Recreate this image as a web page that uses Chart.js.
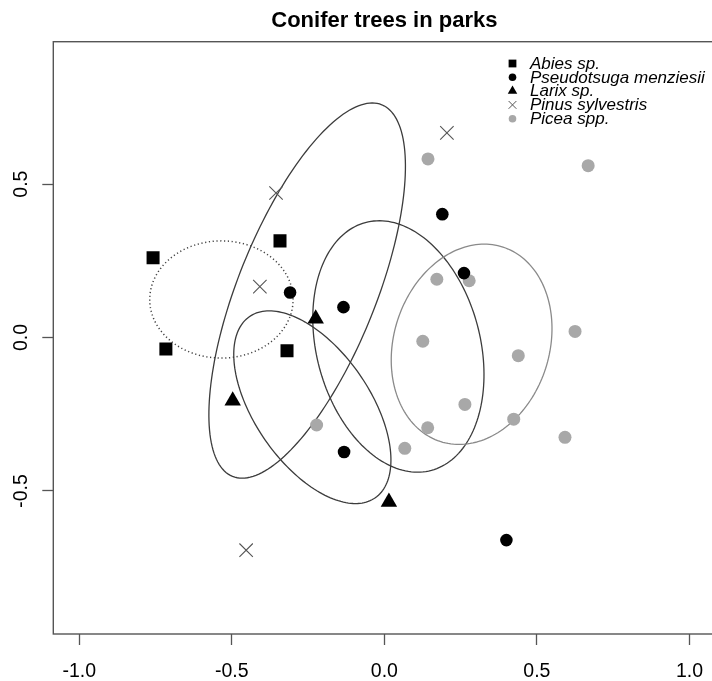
<!DOCTYPE html>
<html>
<head>
<meta charset="utf-8">
<script src="https://cdn.jsdelivr.net/npm/chart.js"></script>
<style>
  html, body { margin: 0; padding: 0; background: #fff; overflow: hidden; width: 712px; height: 681px; }
  #wrap { width: 712px; height: 681px; overflow: hidden; position: relative; }
  #conifer { position: absolute; left: 0; top: 0; }
</style>
</head>
<body>
<div id="wrap"><canvas id="conifer" width="726" height="681"></canvas></div>
<script>
// species (legend order)
const species = ['Abies sp.', 'Pseudotsuga menziesii', 'Larix sp.', 'Pinus sylvestris', 'Picea spp.'];

// ordination scores
const abiesX = [-0.758, -0.342, -0.716, -0.319];
const abiesY = [0.260, 0.315, -0.037, -0.043];
const pseudoX = [-0.309, 0.190, 0.261, -0.134, -0.132, 0.400];
const pseudoY = [0.147, 0.402, 0.210, 0.099, -0.373, -0.660];
const larixX = [-0.225, -0.497, 0.015];
const larixY = [0.061, -0.206, -0.536];
const pinusX = [-0.355, -0.408, 0.205, -0.453];
const pinusY = [0.471, 0.166, 0.667, -0.693];
const piceaX = [0.143, 0.668, 0.172, 0.278, 0.126, 0.625, 0.439, 0.264, 0.424, 0.142, 0.592, -0.222, 0.067];
const piceaY = [0.582, 0.560, 0.190, 0.185, -0.012, 0.020, -0.059, -0.218, -0.266, -0.294, -0.325, -0.285, -0.361];

// group ellipses (same order as species): centre, semi-axes, angle in degrees
const ellCx = [-0.534, 0.046, -0.236, -0.253, 0.286];
const ellCy = [0.124, -0.029, -0.227, 0.153, -0.022];
const ellA = [0.235, 0.418, 0.360, 0.653, 0.333];
const ellB = [0.191, 0.268, 0.188, 0.226, 0.255];
const ellAngle = [0, 105, 125, 68, 72];

// axis ticks
const xTicks = [-1.0, -0.5, 0.0, 0.5, 1.0];
const yTicks = [-0.5, 0.0, 0.5];

const pts = (xs, ys) => xs.map((v, i) => ({ x: v, y: ys[i] }));

// look of each group
const looks = [
  { pointStyle: 'rect', radius: 9.2, color: '#000', legendR: 5.5 },
  { pointStyle: 'circle', radius: 6.3, color: '#000', legendR: 3.8 },
  { pointStyle: 'triangle', radius: 9.5, color: '#000', legendR: 5.5 },
  { pointStyle: 'crossRot', radius: 9.5, color: '#555', legendR: 5.5 },
  { pointStyle: 'circle', radius: 6.5, color: '#a8a8a8', legendR: 3.8 }
];
const ellStyle = [
  { color: '#444', dash: [1.2, 2.6], width: 1.5 },
  { color: '#3c3c3c', dash: [], width: 1.3 },
  { color: '#3c3c3c', dash: [], width: 1.3 },
  { color: '#3c3c3c', dash: [], width: 1.3 },
  { color: '#8a8a8a', dash: [], width: 1.3 }
];

const groups = [pts(abiesX, abiesY), pts(pseudoX, pseudoY), pts(larixX, larixY), pts(pinusX, pinusY), pts(piceaX, piceaY)];

const datasets = groups.map((d, i) => ({
  label: species[i],
  data: d,
  pointStyle: looks[i].pointStyle,
  pointRadius: looks[i].radius,
  pointHoverRadius: looks[i].radius,
  backgroundColor: looks[i].color,
  borderColor: looks[i].color,
  borderWidth: looks[i].pointStyle === 'crossRot' ? 1.1 : 0,
  showLine: false
}));

// draws the ellipses through the scales
const ellipsePlugin = {
  id: 'ellipses',
  beforeDatasetsDraw(chart) {
    const { ctx, scales: { x, y } } = chart;
    ctx.save();
    ellCx.forEach((cx, i) => {
      const t = ellAngle[i] * Math.PI / 180;
      ctx.beginPath();
      for (let k = 0; k <= 180; k++) {
        const u = k / 180 * 2 * Math.PI;
        const dx = ellA[i] * Math.cos(u) * Math.cos(t) - ellB[i] * Math.sin(u) * Math.sin(t);
        const dy = ellA[i] * Math.cos(u) * Math.sin(t) + ellB[i] * Math.sin(u) * Math.cos(t);
        const px = x.getPixelForValue(cx + dx);
        const py = y.getPixelForValue(ellCy[i] + dy);
        if (k === 0) ctx.moveTo(px, py); else ctx.lineTo(px, py);
      }
      ctx.closePath();
      ctx.strokeStyle = ellStyle[i].color;
      ctx.lineWidth = ellStyle[i].width;
      ctx.setLineDash(ellStyle[i].dash);
      ctx.stroke();
    });
    ctx.restore();
  }
};

// box round the plot + legend in the top right corner
const boxLegend = {
  id: 'boxLegend',
  afterDraw(chart) {
    const { ctx, chartArea: a } = chart;
    ctx.save();
    ctx.strokeStyle = '#555';
    ctx.lineWidth = 1.4;
    ctx.strokeRect(a.left, a.top, a.right - a.left, a.bottom - a.top);

    ctx.font = 'italic 17px "Liberation Sans", Arial, sans-serif';
    ctx.textBaseline = 'middle';
    ctx.textAlign = 'left';
    species.forEach((s, i) => {
      const yy = 63.5 + i * 13.8;
      ctx.fillStyle = looks[i].color;
      ctx.strokeStyle = looks[i].color;
      ctx.lineWidth = 1;
      Chart.helpers.drawPoint(ctx, {
        pointStyle: looks[i].pointStyle,
        radius: looks[i].legendR,
        rotation: 0,
        borderWidth: looks[i].pointStyle === 'crossRot' ? 1 : 0
      }, 512.5, yy);
      ctx.fillStyle = '#000';
      ctx.fillText(s, 530, yy + 0.5);
    });
    ctx.restore();
  }
};

const fmt = v => v.toFixed(1);

// no extra room for edge labels: the plot box runs past the right edge like the original
const noEdgePad = s => { s.paddingLeft = 0; s.paddingRight = 0; s.paddingTop = 0; s.paddingBottom = 0; };

new Chart(document.getElementById('conifer'), {
  type: 'scatter',
  data: { datasets },
  options: {
    responsive: false,
    animation: false,
    layout: { padding: 0 },
    plugins: {
      legend: { display: false },
      tooltip: { enabled: false },
      title: {
        display: true,
        text: 'Conifer trees in parks',
        fullSize: false,
        color: '#000',
        font: { family: '"Liberation Sans", Arial, sans-serif', size: 22, weight: 'bold', lineHeight: 1.2 },
        padding: { top: 8.2, bottom: 7.1 }
      }
    },
    scales: {
      x: {
        type: 'linear',
        min: -1.085,
        max: 1.085,
        afterBuildTicks: s => { s.ticks = xTicks.map(v => ({ value: v })); },
        afterFit: s => { s.height = 47; noEdgePad(s); },
        border: { display: false },
        grid: { drawOnChartArea: false, drawTicks: true, tickLength: 11, tickColor: '#555', tickWidth: 1.3 },
        ticks: {
          color: '#000',
          padding: 15,
          font: { family: '"Liberation Sans", Arial, sans-serif', size: 19.5 },
          callback: v => fmt(v),
          maxRotation: 0
        }
      },
      y: {
        type: 'linear',
        min: -0.966,
        max: 0.964,
        afterBuildTicks: s => { s.ticks = yTicks.map(v => ({ value: v })); },
        afterFit: s => { s.width = 53.3; noEdgePad(s); },
        border: { display: false },
        grid: { drawOnChartArea: false, drawTicks: true, tickLength: 11, tickColor: '#555', tickWidth: 1.3 },
        ticks: {
          color: '#000',
          padding: 3.5,
          crossAlign: 'center',
          minRotation: 90,
          maxRotation: 90,
          font: { family: '"Liberation Sans", Arial, sans-serif', size: 19.5 },
          callback: v => fmt(v)
        }
      }
    }
  },
  plugins: [ellipsePlugin, boxLegend]
});
</script>
</body>
</html>
